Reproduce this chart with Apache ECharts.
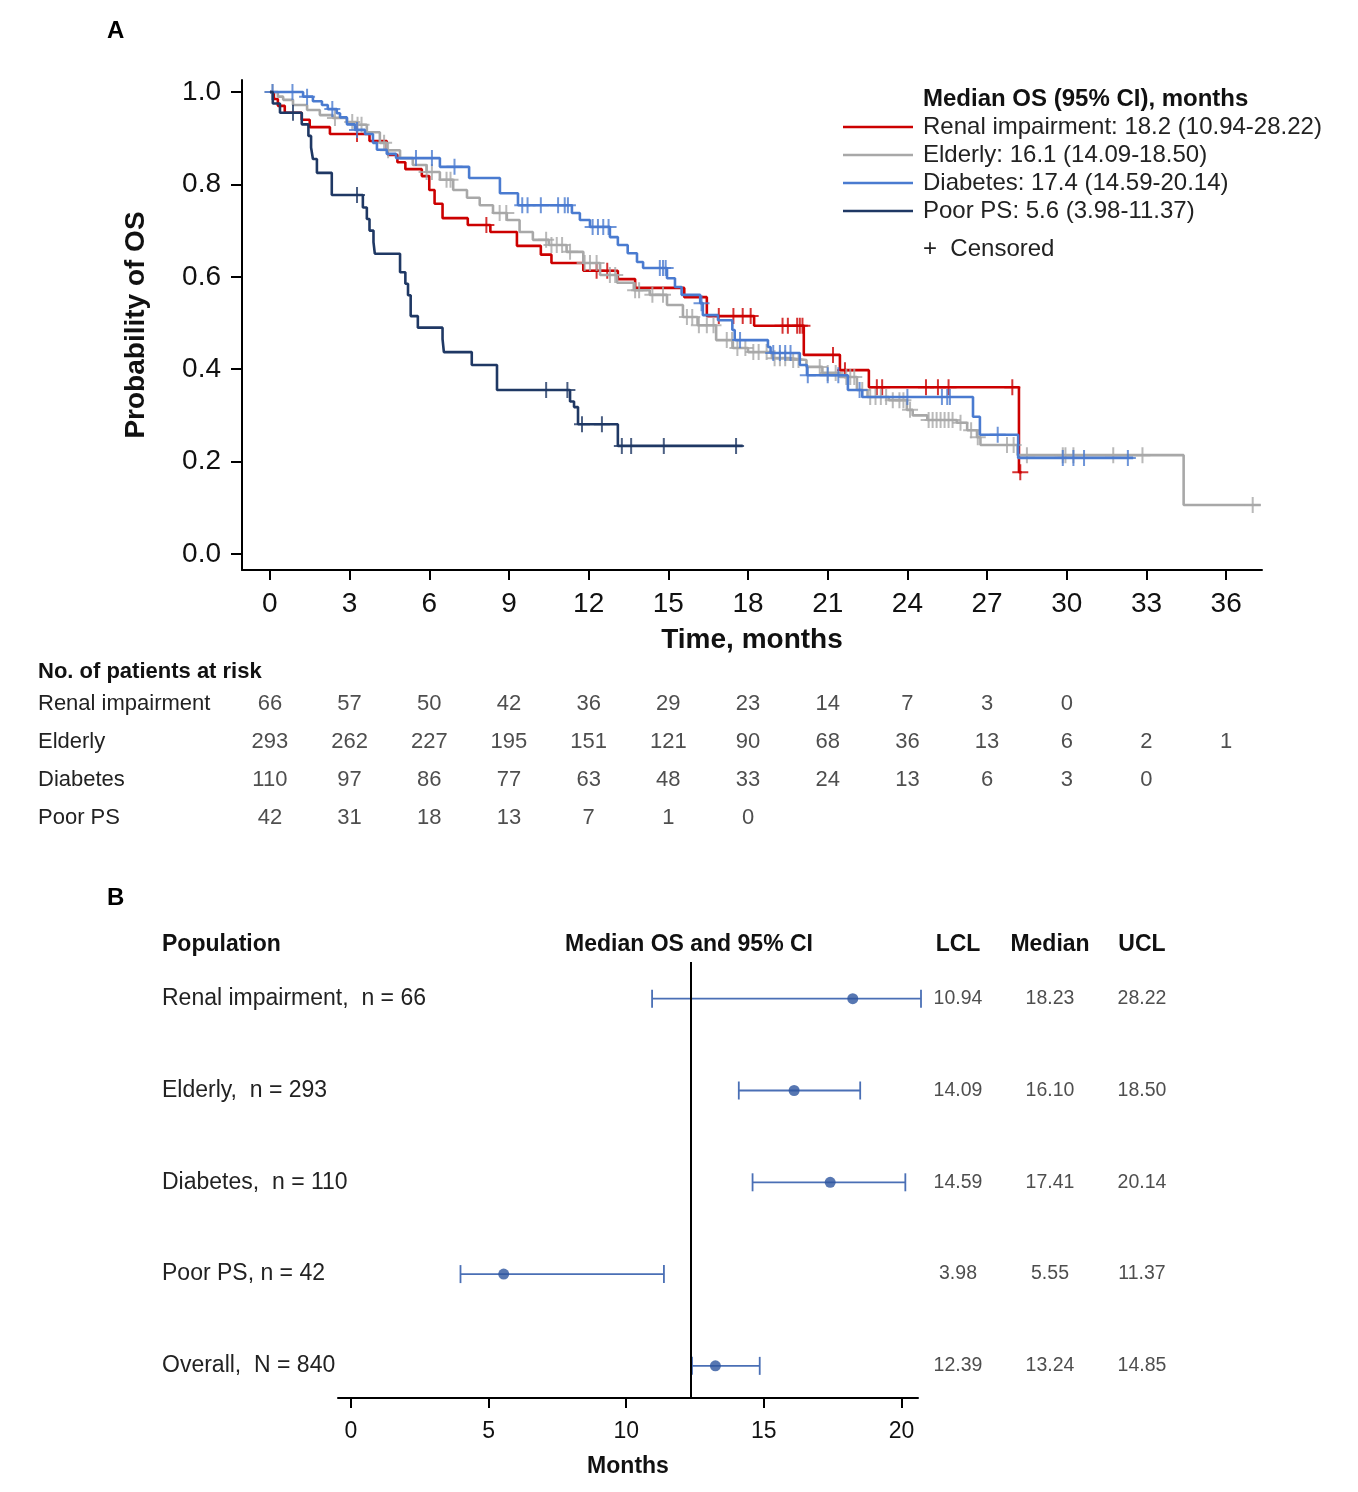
<!DOCTYPE html>
<html><head><meta charset="utf-8">
<script src="https://cdn.jsdelivr.net/npm/echarts@6/dist/echarts.min.js"></script>
<style>html,body{margin:0;padding:0;background:#fff}#c{width:1358px;height:1492px}</style>
</head><body><div id="c"></div>
<script>
// ---------------- Panel A data ----------------
const groups = ['Renal impairment', 'Elderly', 'Diabetes', 'Poor PS'];
const medianText = ['18.2 (10.94-28.22)', '16.1 (14.09-18.50)', '17.4 (14.59-20.14)', '5.6 (3.98-11.37)'];
const groupColors = ['#cc0000', '#a8a8a8', '#4a7bd0', '#1f3864'];

const renalTime = [0, 0.15, 0.3, 0.56, 1.2, 1.5, 2.26, 3.75, 4.4, 4.45, 4.8, 5.1, 5.72, 6.0, 6.2, 6.5, 7.45, 8.3, 9.3, 10.2, 10.6, 11.8, 13.1, 13.75, 15.6, 16.45, 18.23, 20.1, 21.46, 22.55, 28.2, 28.3];
const renalSurv = [1, 0.985, 0.97, 0.955, 0.94, 0.924, 0.909, 0.894, 0.879, 0.864, 0.848, 0.833, 0.818, 0.788, 0.758, 0.727, 0.712, 0.697, 0.667, 0.648, 0.63, 0.613, 0.595, 0.576, 0.556, 0.515, 0.494, 0.431, 0.398, 0.361, 0.177, 0.177];
const renalCensor = [3.28, 8.15, 12.3, 12.7, 16.9, 17.45, 17.8, 18.1, 19.3, 19.5, 19.85, 19.95, 20.05, 21.2, 21.65, 22.85, 23.05, 24.7, 25.15, 25.55, 27.95, 28.25];

const elderlyTime = [0, 0.3, 0.5, 0.87, 1.4, 1.88, 2.37, 2.9, 3.28, 3.65, 4.14, 4.4, 4.9, 5.38, 5.9, 6.4, 6.9, 7.42, 7.9, 8.4, 8.92, 9.4, 9.9, 10.5, 11.17, 11.8, 12.43, 13.07, 13.7, 14.3, 14.95, 15.55, 16.1, 16.8, 17.43, 18.0, 18.9, 19.55, 20.2, 20.8, 21.46, 22.1, 22.5, 23.3, 23.98, 24.2, 24.75, 25.86, 26.25, 26.62, 26.75, 28.15, 34.4, 37.3];
const elderlySurv = [1, 0.99, 0.983, 0.972, 0.961, 0.95, 0.944, 0.935, 0.929, 0.913, 0.89, 0.874, 0.857, 0.842, 0.827, 0.81, 0.788, 0.771, 0.755, 0.738, 0.723, 0.697, 0.68, 0.669, 0.654, 0.63, 0.604, 0.587, 0.571, 0.561, 0.539, 0.513, 0.495, 0.463, 0.446, 0.437, 0.424, 0.42, 0.405, 0.392, 0.383, 0.355, 0.34, 0.333, 0.312, 0.30, 0.29, 0.284, 0.268, 0.253, 0.236, 0.214, 0.106, 0.106];
const elderlyCensor = [0.1, 2.45, 3.1, 3.3, 3.45, 4.3, 4.45, 5.9, 6.1, 6.65, 6.8, 8.65, 8.9, 10.4, 10.6, 10.8, 11.0, 11.3, 11.85, 12.05, 12.3, 12.8, 13.0, 13.75, 13.9, 14.4, 14.8, 15.7, 15.9, 16.15, 16.45, 16.7, 17.2, 17.4, 17.6, 17.9, 18.2, 18.4, 18.7, 19.0, 19.2, 19.4, 19.7, 19.9, 20.7, 21.0, 21.3, 21.7, 21.85, 22.0, 22.3, 22.6, 22.8, 23.0, 23.2, 23.45, 23.7, 23.85, 24.1, 24.8, 24.95, 25.1, 25.25, 25.4, 25.55, 25.7, 26.0, 26.4, 26.65, 27.75, 28.0, 28.5, 29.85, 29.95, 30.25, 31.75, 32.85, 37.0];

const diabTime = [0, 1.25, 1.62, 1.96, 2.18, 2.52, 2.64, 2.9, 3.2, 3.58, 3.88, 4.03, 4.4, 4.75, 6.4, 7.5, 8.66, 9.34, 11.37, 11.67, 12.05, 12.8, 13.1, 13.47, 13.82, 14.05, 14.95, 15.25, 15.5, 16.2, 16.3, 16.87, 17.41, 17.5, 18.75, 18.85, 19.95, 20.22, 21.76, 22.3, 26.47, 26.73, 28.17, 32.5];
const diabSurv = [1, 0.99, 0.98, 0.972, 0.963, 0.954, 0.945, 0.93, 0.918, 0.909, 0.89, 0.875, 0.866, 0.857, 0.838, 0.814, 0.781, 0.755, 0.738, 0.723, 0.708, 0.686, 0.669, 0.651, 0.632, 0.619, 0.597, 0.578, 0.561, 0.543, 0.517, 0.506, 0.485, 0.463, 0.448, 0.435, 0.409, 0.387, 0.355, 0.34, 0.297, 0.258, 0.208, 0.208];
const diabCensor = [0.1, 0.85, 1.4, 2.35, 3.28, 5.5, 6.1, 6.95, 9.5, 9.7, 10.2, 10.85, 11.1, 11.22, 12.15, 12.35, 12.55, 12.75, 14.68, 14.8, 14.9, 16.25, 17.7, 18.95, 19.2, 19.4, 19.6, 20.25, 21.0, 21.4, 22.2, 24.0, 25.3, 25.5, 25.6, 27.4, 29.85, 30.25, 30.65, 32.3];

const poorTime = [0, 0.11, 0.38, 1.2, 1.45, 1.55, 1.62, 1.77, 2.33, 3.5, 3.65, 3.75, 3.9, 3.95, 4.9, 5.1, 5.2, 5.3, 5.57, 6.5, 6.55, 7.6, 8.55, 11.3, 11.45, 11.6, 13.1, 17.8];
const poorSurv = [1, 0.975, 0.955, 0.93, 0.905, 0.88, 0.855, 0.825, 0.777, 0.75, 0.725, 0.70, 0.675, 0.65, 0.61, 0.585, 0.56, 0.515, 0.49, 0.465, 0.437, 0.409, 0.355, 0.33, 0.318, 0.281, 0.234, 0.234];
const poorCensor = [0.87, 3.28, 10.4, 11.2, 11.75, 12.5, 13.25, 13.6, 14.83, 17.55];

const xTicksA = [0, 3, 6, 9, 12, 15, 18, 21, 24, 27, 30, 33, 36];
const yTicksA = [0, 0.2, 0.4, 0.6, 0.8, 1.0];

// Numbers at risk
const riskTimes = [0, 3, 6, 9, 12, 15, 18, 21, 24, 27, 30, 33, 36];
const riskRenal = [66, 57, 50, 42, 36, 29, 23, 14, 7, 3, 0];
const riskElderly = [293, 262, 227, 195, 151, 121, 90, 68, 36, 13, 6, 2, 1];
const riskDiabetes = [110, 97, 86, 77, 63, 48, 33, 24, 13, 6, 3, 0];
const riskPoor = [42, 31, 18, 13, 7, 1, 0];

// ---------------- Panel B data ----------------
const forestLabels = ['Renal impairment,  n = 66', 'Elderly,  n = 293', 'Diabetes,  n = 110', 'Poor PS, n = 42', 'Overall,  N = 840'];
const forestLCL = [10.94, 14.09, 14.59, 3.98, 12.39];
const forestMedian = [18.23, 16.10, 17.41, 5.55, 13.24];
const forestUCL = [28.22, 18.50, 20.14, 11.37, 14.85];
const forestRef = 12.35;
const tableCols = ['LCL', 'Median', 'UCL'];
const xTicksB = [0, 5, 10, 15, 20];

// ---------------- helpers ----------------
const FONT = '"Liberation Sans", Arial, Helvetica, sans-serif';
function survAt(times, surv, t) {
  let v = surv[0];
  for (let i = 0; i < times.length; i++) { if (times[i] <= t) v = surv[i]; else break; }
  return v;
}
const PLUS = 'path://M7,0h2v16h-2z M0,7h16v2h-16z';

const curveSets = [
  [renalTime, renalSurv, renalCensor],
  [elderlyTime, elderlySurv, elderlyCensor],
  [diabTime, diabSurv, diabCensor],
  [poorTime, poorSurv, poorCensor]
];
const drawOrder = [1, 2, 0, 3];
const series = [];
drawOrder.forEach(gi => {
  const [T, S, C] = curveSets[gi];
  series.push({
    name: groups[gi], type: 'line', step: 'end', xAxisIndex: 0, yAxisIndex: 0,
    showSymbol: false, symbol: 'none', silent: true, z: 3 + gi,
    lineStyle: { color: groupColors[gi], width: 2.6 }, itemStyle: { color: groupColors[gi] },
    data: T.map((t, i) => [t, S[i]])
  });
  series.push({
    name: groups[gi] + ' censored', type: 'scatter', xAxisIndex: 0, yAxisIndex: 0,
    symbol: PLUS, symbolSize: 16, silent: true, z: 3 + gi,
    itemStyle: { color: groupColors[gi] },
    data: C.map(t => [t, survAt(T, S, t)])
  });
});

// risk table
const riskSets = [riskRenal, riskElderly, riskDiabetes, riskPoor];
const riskData = [];
riskSets.forEach((arr, r) => arr.forEach((n, i) => riskData.push([riskTimes[i], r, n])));
series.push({
  type: 'scatter', xAxisIndex: 1, yAxisIndex: 1, symbolSize: 1, silent: true,
  itemStyle: { color: 'rgba(0,0,0,0)' },
  label: { show: true, position: 'inside', formatter: p => String(p.value[2]), fontSize: 22, color: '#222', fontFamily: FONT },
  data: riskData
});

// forest
const forestBlue = '#4a6fb5';
series.push({
  type: 'custom', xAxisIndex: 2, yAxisIndex: 2, silent: true,
  renderItem: function (params, api) {
    const cs = params.coordSys;
    const xMinPx = cs.x, xMaxPx = cs.x + cs.width + 3;
    const a = api.coord([api.value(0), api.value(2)]);
    const b = api.coord([api.value(1), api.value(2)]);
    const ax = Math.max(xMinPx, a[0]);
    const bx = Math.min(xMaxPx, b[0]);
    const h = 9;
    const st = { stroke: forestBlue, lineWidth: 1.8 };
    return { type: 'group', children: [
      { type: 'line', shape: { x1: ax, y1: a[1], x2: bx, y2: b[1] }, style: st },
      { type: 'line', shape: { x1: ax, y1: a[1] - h, x2: ax, y2: a[1] + h }, style: st },
      { type: 'line', shape: { x1: bx, y1: b[1] - h, x2: bx, y2: b[1] + h }, style: st }
    ]};
  },
  encode: { x: [0, 1], y: 2 },
  data: forestLCL.map((l, i) => [l, forestUCL[i], i])
});
series.push({
  type: 'scatter', xAxisIndex: 2, yAxisIndex: 2, silent: true, symbolSize: 11, z: 5,
  itemStyle: { color: '#2d559f' },
  data: forestMedian.map((m, i) => [m, i]),
  markLine: {
    silent: true, symbol: 'none', label: { show: false },
    lineStyle: { color: '#000', width: 2, type: 'solid' },
    data: [{ xAxis: forestRef }]
  }
});
// table values
const tableData = [];
[forestLCL, forestMedian, forestUCL].forEach((arr, c) => arr.forEach((v, r) => tableData.push([c, r, v])));
series.push({
  type: 'scatter', xAxisIndex: 3, yAxisIndex: 3, symbolSize: 1, silent: true,
  itemStyle: { color: 'rgba(0,0,0,0)' },
  label: { show: true, position: 'inside', formatter: p => p.value[2].toFixed(2), fontSize: 19.5, color: '#222', fontFamily: FONT },
  data: tableData
});

const axisBlack = { show: true, onZero: false, lineStyle: { color: '#000', width: 2 } };

const option = {
  animation: false,
  backgroundColor: '#fff',
  textStyle: { fontFamily: FONT },
  grid: [
    { left: 242, top: 80, width: 1020, height: 490 },
    { left: 242, top: 685, width: 1020, height: 152 },
    { left: 338, top: 962, width: 580, height: 436 },
    { left: 912, top: 962, width: 276, height: 436 }
  ],
  xAxis: [
    { type: 'value', gridIndex: 0, min: -1.05, max: 37.35,
      axisLine: axisBlack, splitLine: { show: false },
      axisTick: { show: true, customValues: xTicksA, length: 10, lineStyle: { color: '#000', width: 2 } },
      axisLabel: { customValues: xTicksA, fontSize: 28, color: '#111', margin: 20 },
      name: 'Time, months', nameLocation: 'middle', nameGap: 56,
      nameTextStyle: { fontSize: 28, fontWeight: 'bold', color: '#111' } },
    { type: 'value', gridIndex: 1, min: -1.05, max: 37.35, show: false },
    { type: 'value', gridIndex: 2, min: -0.47, max: 20.6,
      axisLine: axisBlack, splitLine: { show: false },
      axisTick: { show: true, customValues: xTicksB, length: 10, lineStyle: { color: '#000', width: 2 } },
      axisLabel: { customValues: xTicksB, fontSize: 23, color: '#111', margin: 22 },
      name: 'Months', nameLocation: 'middle', nameGap: 57,
      nameTextStyle: { fontSize: 23, fontWeight: 'bold', color: '#111' } },
    { type: 'category', gridIndex: 3, position: 'top', data: tableCols,
      axisLine: { show: false }, axisTick: { show: false }, splitLine: { show: false },
      axisLabel: { interval: 0, fontSize: 23, fontWeight: 'bold', color: '#111', margin: 6 } }
  ],
  yAxis: [
    { type: 'value', gridIndex: 0, min: -0.0346, max: 1.026,
      axisLine: axisBlack, splitLine: { show: false },
      axisTick: { show: true, customValues: yTicksA, length: 11, lineStyle: { color: '#000', width: 2 } },
      axisLabel: { customValues: yTicksA, formatter: v => v.toFixed(1), fontSize: 28, color: '#111', margin: 21 },
      name: 'Probability of OS', nameLocation: 'middle', nameGap: 92,
      nameTextStyle: { fontSize: 28, fontWeight: 'bold', color: '#111' } },
    { type: 'category', gridIndex: 1, inverse: true, data: groups,
      axisLine: { show: false }, axisTick: { show: false }, splitLine: { show: false },
      axisLabel: { interval: 0, align: 'left', margin: 204, fontSize: 22, color: '#222' } },
    { type: 'value', gridIndex: 2, min: -0.4, max: 4.35, inverse: true, show: false },
    { type: 'value', gridIndex: 3, min: -0.4, max: 4.35, inverse: true, show: false }
  ],
  legend: {
    data: groups, orient: 'vertical', left: 843, top: 115, itemGap: 4, padding: 0,
    icon: 'rect', itemWidth: 70, itemHeight: 2.5, selectedMode: false,
    formatter: name => name + ': ' + medianText[groups.indexOf(name)],
    textStyle: { fontSize: 24, color: '#222', lineHeight: 24, padding: [0, 0, 0, 5] }
  },
  series: series
};

const chart = echarts.init(document.getElementById('c'), null, { renderer: 'canvas' });
chart.setOption(option);

const graphics = [
  { type: 'text', left: 107, top: 19, style: { text: 'A', font: 'bold 24px ' + FONT, fill: '#000' } },
  { type: 'text', left: 107, top: 886, style: { text: 'B', font: 'bold 24px ' + FONT, fill: '#000' } },
  { type: 'text', left: 923, top: 87, style: { text: 'Median OS (95% CI), months', font: 'bold 24px ' + FONT, fill: '#111' } },
  { type: 'text', left: 923, top: 237, style: { text: '+  Censored', font: '24px ' + FONT, fill: '#222' } },
  { type: 'text', left: 38, top: 661, style: { text: 'No. of patients at risk', font: 'bold 22px ' + FONT, fill: '#111' } },
  { type: 'text', left: 162, top: 933, style: { text: 'Population', font: 'bold 23px ' + FONT, fill: '#111' } },
  { type: 'text', x: 689, y: 945, style: { text: 'Median OS and 95% CI', font: 'bold 23px ' + FONT, fill: '#111', textAlign: 'center', textVerticalAlign: 'middle' } }
];
forestLabels.forEach((lab, i) => {
  const y = chart.convertToPixel({ yAxisIndex: 2 }, i);
  graphics.push({ type: 'text', x: 162, y: y, style: { text: lab, font: '23px ' + FONT, fill: '#222', textAlign: 'left', textVerticalAlign: 'middle' } });
});
chart.setOption({ graphic: graphics });
</script></body></html>
